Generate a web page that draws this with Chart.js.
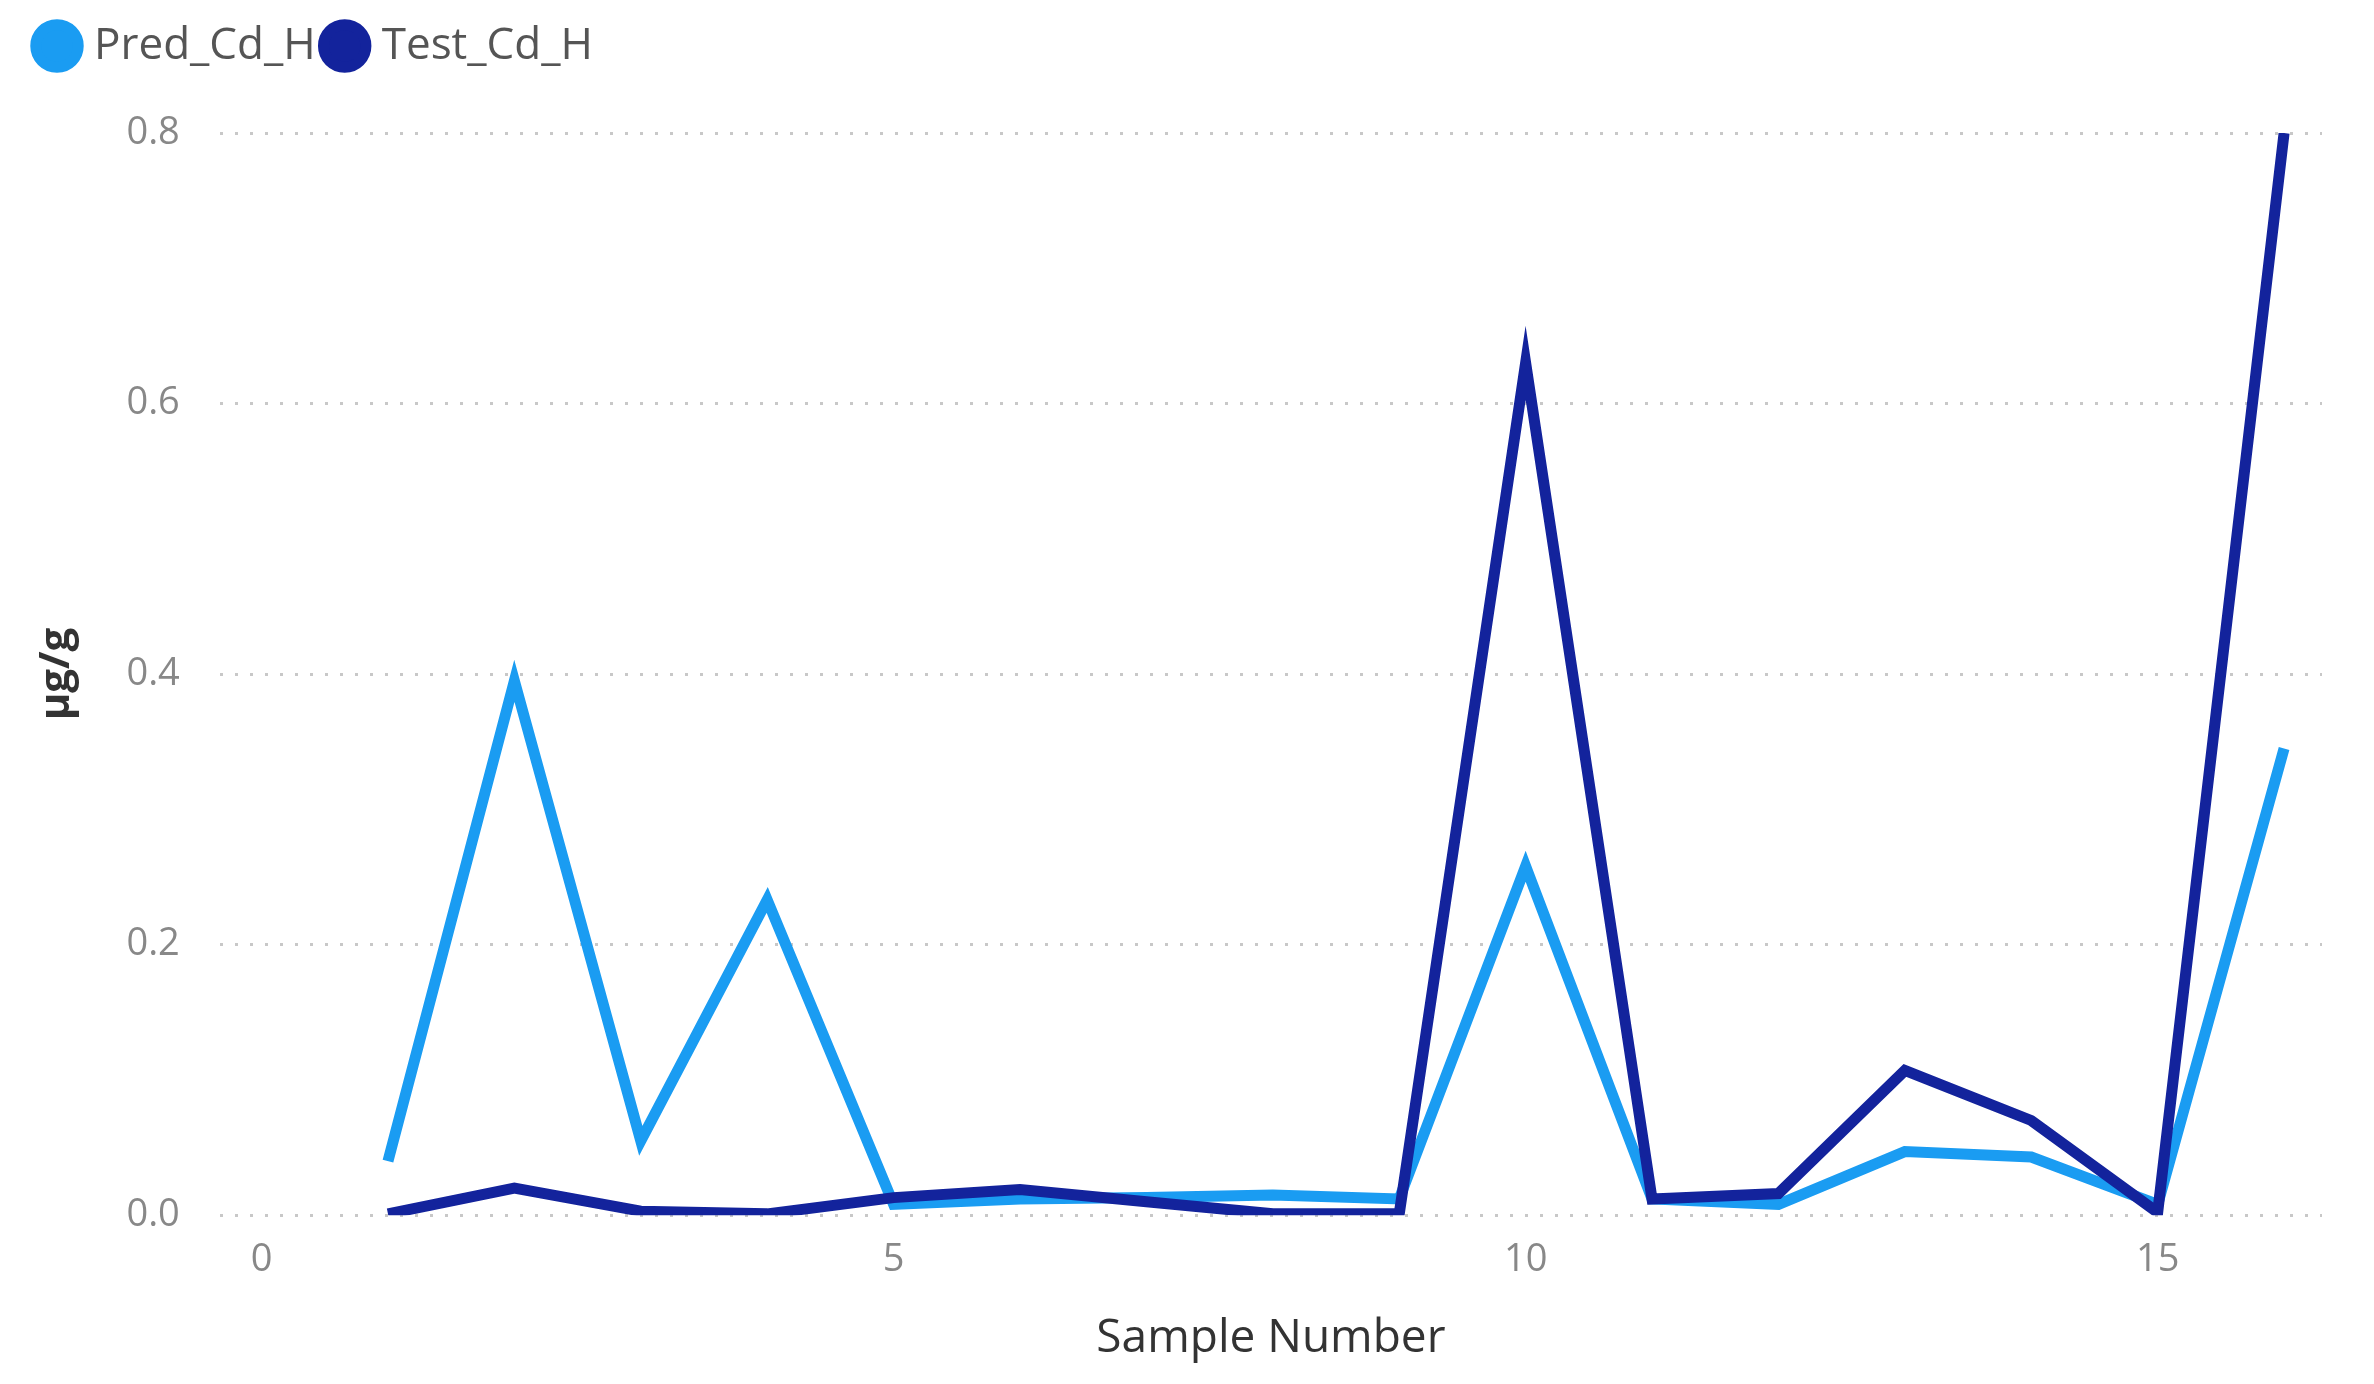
<!DOCTYPE html>
<html lang="en">
<head>
    <meta charset="UTF-8">
    <title>Pred vs Test Cd_H</title>
    <script src="https://cdn.jsdelivr.net/npm/chart.js@4.4.1/dist/chart.umd.min.js"></script>
    <style>
        html, body { margin: 0; padding: 0; background: #fff; }
        #wrap { width: 2374px; height: 1384px; }
    </style>
</head>
<body>
    <div id="wrap"><canvas id="chrt"></canvas></div>
    <script>
        const samples = [1, 2, 3, 4, 5, 6, 7, 8, 9, 10, 11, 12, 13, 14, 15, 16]
        const predCdH = [0.04, 0.395, 0.055, 0.233, 0.008, 0.012, 0.013, 0.015, 0.012, 0.258, 0.012, 0.008, 0.047, 0.043, 0.008, 0.345]
        const testCdH = [0.001, 0.02, 0.003, 0.001, 0.013, 0.019, 0.01, 0.001, 0.001, 0.63, 0.012, 0.016, 0.107, 0.07, 0.002, 0.8]
        const xTicks = [0, 5, 10, 15]

        const toPoints = vals => samples.map((s, i) => ({ x: s, y: vals[i] }))
        const tickFont = { family: 'Open Sans', size: 38 }

        // push the plot down a bit under the legend
        const legendGap = {
            id: 'legendGap',
            beforeInit(chart) {
                const fit = chart.legend.fit
                chart.legend.fit = function () {
                    fit.bind(chart.legend)()
                    this.height += 55
                }
            }
        }

        new Chart(document.getElementById('chrt'), {
            type: 'scatter',
            data: {
                datasets: [
                    { label: 'Pred_Cd_H', data: toPoints(predCdH), showLine: true, borderColor: '#1a9cf2', backgroundColor: '#1a9cf2', borderWidth: 11, pointRadius: 0, order: 2 },
                    { label: 'Test_Cd_H', data: toPoints(testCdH), showLine: true, borderColor: '#13239c', backgroundColor: '#13239c', borderWidth: 11, pointRadius: 0, order: 1 }
                ]
            },
            plugins: [legendGap],
            options: {
                responsive: true,
                maintainAspectRatio: false,
                animation: false,
                layout: { padding: { top: 10, right: 52, left: 28, bottom: 14 } },
                plugins: {
                    tooltip: { enabled: false },
                    legend: {
                        position: 'top',
                        align: 'start',
                        labels: {
                            usePointStyle: true, pointStyle: 'circle', boxWidth: 30, boxHeight: 30,
                            color: '#555', font: { family: 'Open Sans', size: 44 }, padding: 14,
                            sort: (a, b) => a.datasetIndex - b.datasetIndex
                        }
                    }
                },
                scales: {
                    x: {
                        type: 'linear', min: -0.33, max: 16.3,
                        afterBuildTicks: ax => { ax.ticks = xTicks.map(v => ({ value: v })) },
                        grid: { display: false },
                        border: { display: false },
                        ticks: { color: '#888', font: tickFont, padding: 14 },
                        title: { display: true, text: 'Sample Number', color: '#333', font: { family: 'Open Sans', size: 46 }, padding: { top: 14 } }
                    },
                    y: {
                        min: 0, max: 0.8,
                        ticks: { stepSize: 0.2, color: '#888', font: tickFont, padding: 40, callback: v => v.toFixed(1) },
                        grid: { color: '#c8c8c8', lineWidth: 3, drawTicks: false },
                        border: { display: false, dash: [3, 12] },
                        title: { display: true, text: 'µg/g', color: '#333', font: { family: 'Open Sans', size: 42, weight: 'bold' } }
                    }
                }
            }
        })
    </script>
</body>
</html>
